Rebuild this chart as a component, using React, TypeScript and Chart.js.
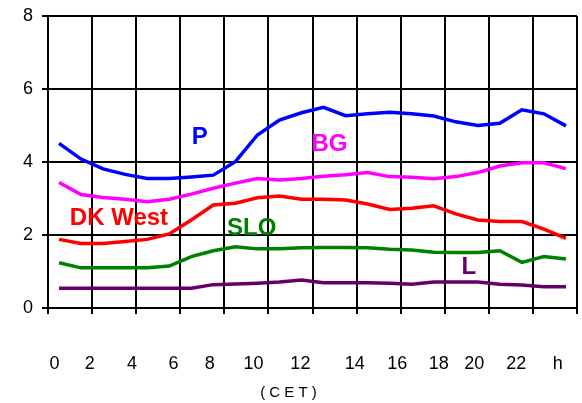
import React, { useEffect, useRef } from "react";
import { Chart, registerables } from "chart.js";

Chart.register(...registerables);

// Hours of the day (one point per hour)
const hours = [0, 1, 2, 3, 4, 5, 6, 7, 8, 9, 10, 11, 12, 13, 14, 15, 16, 17, 18, 19, 20, 21, 22, 23];

const seriesP = [4.51, 4.08, 3.81, 3.66, 3.55, 3.55, 3.59, 3.64, 4.01, 4.74, 5.15, 5.35, 5.5, 5.27, 5.32, 5.36, 5.32, 5.26, 5.1, 5.0, 5.06, 5.43, 5.32, 4.99];
const seriesBG = [3.44, 3.11, 3.03, 2.98, 2.91, 2.98, 3.12, 3.28, 3.42, 3.55, 3.51, 3.55, 3.61, 3.65, 3.71, 3.6, 3.58, 3.54, 3.6, 3.71, 3.89, 3.98, 3.98, 3.82];
const seriesDK = [1.88, 1.77, 1.77, 1.82, 1.88, 2.03, 2.41, 2.82, 2.87, 3.02, 3.07, 2.98, 2.98, 2.96, 2.85, 2.7, 2.73, 2.8, 2.58, 2.41, 2.37, 2.37, 2.16, 1.91];
const seriesSLO = [1.24, 1.1, 1.1, 1.1, 1.1, 1.15, 1.41, 1.57, 1.68, 1.62, 1.62, 1.65, 1.66, 1.66, 1.65, 1.61, 1.59, 1.53, 1.52, 1.52, 1.57, 1.25, 1.41, 1.34];
const seriesL = [0.54, 0.54, 0.54, 0.54, 0.54, 0.54, 0.54, 0.64, 0.66, 0.68, 0.71, 0.77, 0.69, 0.69, 0.69, 0.68, 0.65, 0.71, 0.71, 0.71, 0.65, 0.63, 0.58, 0.58];

const seriesNames = ["P", "BG", "DK West", "SLO", "L"];
const seriesColors = ["#0000FF", "#FF00FF", "#FF0000", "#008000", "#660066"];

// Series name labels anchored in data coordinates (hour, value)
const nameLabelHour = [6.38, 12.27, 2.72, 8.74, 18.59];
const nameLabelValue = [4.68, 4.48, 2.46, 2.17, 1.11];

// Vertical grid every two hours
const gridHours = [-0.5, 1.5, 3.5, 5.5, 7.5, 9.5, 11.5, 13.5, 15.5, 17.5, 19.5, 21.5, 23.5];
// Hour tick labels and where they sit along the hour axis
const hourTickLabels = ["0", "2", "4", "6", "8", "10", "12", "14", "16", "18", "20", "22", "h"];
const hourTickPositions = [-0.2, 1.39, 3.31, 5.19, 6.84, 8.82, 10.95, 13.42, 15.34, 17.23, 18.84, 20.74, 22.63];

const yTicks = [0, 2, 4, 6, 8];

const FONT = "'Liberation Sans', Arial, sans-serif";

export default function App() {
  const ref = useRef<HTMLCanvasElement | null>(null);

  useEffect(() => {
    document.body.style.margin = "0";
    const canvas = ref.current;
    if (!canvas) return;
    const all = [seriesP, seriesBG, seriesDK, seriesSLO, seriesL];

    const namePlugin = {
      id: "seriesNames",
      afterDatasetsDraw(chart: any) {
        const ctx = chart.ctx;
        const xs = chart.scales.x;
        const ys = chart.scales.y;
        ctx.save();
        ctx.font = `bold 24px ${FONT}`;
        ctx.textAlign = "center";
        ctx.textBaseline = "middle";
        seriesNames.forEach((n, i) => {
          ctx.fillStyle = seriesColors[i];
          ctx.fillText(n, xs.getPixelForValue(nameLabelHour[i]), ys.getPixelForValue(nameLabelValue[i]));
        });
        ctx.restore();
      },
    };

    const noSidePadding = (axis: any) => {
      axis.paddingLeft = 0;
      axis.paddingRight = 0;
    };

    const chart = new Chart(canvas, {
      type: "line",
      data: {
        datasets: all.map((vals, i) => ({
          label: seriesNames[i],
          data: hours.map((h, j) => ({ x: h, y: vals[j] })),
          borderColor: seriesColors[i],
          backgroundColor: seriesColors[i],
          borderWidth: 3.5,
          pointRadius: 0,
          tension: 0,
          fill: false,
        })),
      },
      options: {
        animation: false,
        responsive: false,
        devicePixelRatio: 1,
        layout: { padding: { top: 16, right: 5, left: 0, bottom: 0 } },
        plugins: {
          legend: { display: false },
          tooltip: { enabled: false },
          title: {
            display: true,
            position: "bottom",
            text: "( C E T )",
            color: "#000",
            font: { family: FONT, size: 15, weight: "normal" },
            padding: { top: 4, bottom: 1 },
          },
        },
        scales: {
          x: {
            type: "linear",
            position: "bottom",
            min: -0.5,
            max: 23.5,
            afterBuildTicks: (axis: any) => {
              axis.ticks = gridHours.map((v) => ({ value: v }));
            },
            afterFit: (axis: any) => {
              axis.height = 6;
              noSidePadding(axis);
            },
            ticks: { display: false },
            grid: { color: "#000", lineWidth: 2, tickLength: 6, drawTicks: true },
            border: { display: true, color: "#000", width: 2 },
          },
          xLabels: {
            type: "linear",
            position: "bottom",
            min: -0.5,
            max: 23.5,
            afterBuildTicks: (axis: any) => {
              axis.ticks = hourTickPositions.map((v) => ({ value: v }));
            },
            afterFit: (axis: any) => {
              axis.height = 66;
              noSidePadding(axis);
            },
            ticks: {
              autoSkip: false,
              maxRotation: 0,
              padding: 39,
              color: "#000",
              font: { family: FONT, size: 18 },
              callback: (_v: any, idx: number) => hourTickLabels[idx],
            },
            grid: { display: false, drawTicks: false },
            border: { display: false },
          },
          y: {
            min: 0,
            max: 8,
            afterBuildTicks: (axis: any) => {
              axis.ticks = yTicks.map((v) => ({ value: v }));
            },
            afterFit: (axis: any) => {
              axis.width = 48;
              axis.paddingTop = 0;
              axis.paddingBottom = 0;
            },
            ticks: {
              padding: 9,
              color: "#000",
              font: { family: FONT, size: 18 },
            },
            grid: { color: "#000", lineWidth: 2, tickLength: 6 },
            border: { display: true, color: "#000", width: 2 },
          },
        },
      },
      plugins: [namePlugin],
    } as any);

    return () => chart.destroy();
  }, []);

  return (
    <div style={{ width: 582, height: 403 }}>
      <canvas ref={ref} width={582} height={403} style={{ display: "block" }} />
    </div>
  );
}
